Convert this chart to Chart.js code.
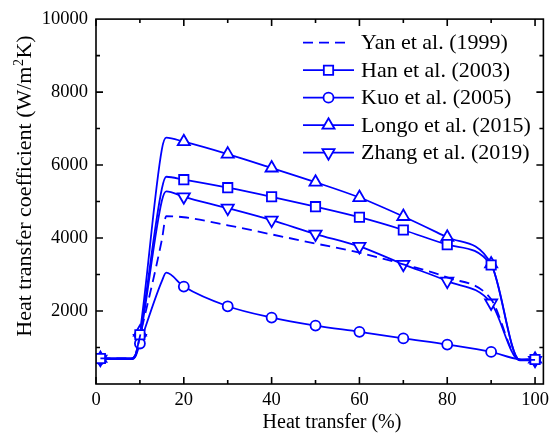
<!DOCTYPE html>
<html>
<head>
<meta charset="utf-8">
<script src="https://cdn.jsdelivr.net/npm/chart.js@4.4.0/dist/chart.umd.min.js"></script>
<style>
  body { margin: 0; background: #fff; }
</style>
</head>
<body>
<canvas id="htcChart" width="554" height="437"></canvas>
<script>
// heat transfer (%) sample points shared by all curves
const xPts  = [1, 8, 9, 10, 15, 16, 20, 30, 40, 50, 60, 70, 80, 90, 96.5, 100];
const yan   = [700, 700, 790, 1300, 3950, 4600, 4570, 4350, 4100, 3850, 3600, 3280, 2920, 2320, 660, 660];
const han   = [700, 700, 800, 1350, 5350, 5680, 5600, 5380, 5130, 4860, 4570, 4220, 3820, 3260, 660, 670];
const kuo   = [680, 680, 760, 1110, 2820, 3050, 2670, 2130, 1820, 1600, 1430, 1250, 1080, 880, 680, 670];
const longo = [700, 700, 800, 1420, 6430, 6750, 6640, 6300, 5920, 5530, 5110, 4590, 4020, 3290, 660, 680];
const zhang = [680, 680, 780, 1250, 5020, 5280, 5130, 4820, 4490, 4110, 3770, 3280, 2820, 2220, 650, 650];

const seriesNames = ['Yan et al. (1999)', 'Han et al. (2003)', 'Kuo et al. (2005)', 'Longo et al. (2015)', 'Zhang et al. (2019)'];
const xTicks = [0, 20, 40, 60, 80, 100];
const yTicks = [2000, 4000, 6000, 8000, 10000];

const BLUE = '#0000ff';
const FONT = '"Liberation Serif", "Times New Roman", serif';

// marker only on the measured stations (1, 10, 20 ... 100)
const markerAt = (c, r) => {
    const x = c.raw && c.raw.x;
    return (x === 1 || x % 10 === 0) ? r : 0;
};

function makeSet(label, vals, style, radius, rotation, dash) {
    return {
        label: label,
        data: xPts.map((x, i) => ({ x: x, y: vals[i] })),
        borderColor: BLUE,
        backgroundColor: '#fff',
        borderWidth: 1.8,
        borderDash: dash || [],
        cubicInterpolationMode: 'monotone',
        pointStyle: style,
        pointRotation: rotation || 0,
        pointRadius: style ? (c) => markerAt(c, radius) : 0,
        pointBorderColor: BLUE,
        pointBackgroundColor: '#fff',
        pointBorderWidth: 1.8,
        pointHoverRadius: 0
    };
}

const datasets = [
    makeSet(seriesNames[0], yan, false, 0, 0, [10, 6]),
    makeSet(seriesNames[1], han, 'rect', 6.6),
    makeSet(seriesNames[2], kuo, 'circle', 5),
    makeSet(seriesNames[3], longo, 'triangle', 7),
    makeSet(seriesNames[4], zhang, 'triangle', 7, 180)
];

function marker(ctx, style, x, y, r, rot) {
    ctx.save();
    ctx.translate(x, y);
    ctx.rotate((rot || 0) * Math.PI / 180);
    ctx.beginPath();
    if (style === 'rect') {
        const s = r * Math.SQRT1_2;
        ctx.rect(-s, -s, 2 * s, 2 * s);
    } else if (style === 'circle') {
        ctx.arc(0, 0, r, 0, Math.PI * 2);
    } else if (style === 'triangle') {
        for (let k = 0; k < 3; k++) {
            const a = k * 2 * Math.PI / 3;
            const px = Math.sin(a) * r, py = -Math.cos(a) * r;
            k ? ctx.lineTo(px, py) : ctx.moveTo(px, py);
        }
        ctx.closePath();
    }
    ctx.fillStyle = '#fff';
    ctx.fill();
    ctx.lineWidth = 1.8;
    ctx.strokeStyle = BLUE;
    ctx.stroke();
    ctx.restore();
}

const frameAndLegend = {
    id: 'frameAndLegend',
    afterDraw(chart) {
        const { ctx, chartArea: a, scales } = chart;
        const xs = scales.x, ys = scales.y;
        ctx.save();
        ctx.strokeStyle = '#000';
        ctx.lineWidth = 1.6;
        ctx.strokeRect(a.left, a.top, a.right - a.left, a.bottom - a.top);
        ctx.beginPath();
        for (let v = 0; v <= 100; v += 10) {
            const px = xs.getPixelForValue(v);
            const len = v % 20 === 0 ? 7 : 4;
            ctx.moveTo(px, a.bottom); ctx.lineTo(px, a.bottom - len);
            ctx.moveTo(px, a.top); ctx.lineTo(px, a.top + len);
        }
        for (let v = 1000; v < 10000; v += 1000) {
            const py = ys.getPixelForValue(v);
            const len = v % 2000 === 0 ? 7 : 4;
            ctx.moveTo(a.left, py); ctx.lineTo(a.left + len, py);
            ctx.moveTo(a.right, py); ctx.lineTo(a.right - len, py);
        }
        ctx.stroke();

        // axis titles
        ctx.fillStyle = '#000';
        ctx.textBaseline = 'alphabetic';
        ctx.textAlign = 'left';
        ctx.font = '20px ' + FONT;
        const xt = 'Heat transfer (%)';
        ctx.fillText(xt, 332 - ctx.measureText(xt).width / 2, 428);

        const p1 = 'Heat transfer coefficient (W/m', p2 = '2', p3 = 'K)';
        ctx.font = '22px ' + FONT;
        const w1 = ctx.measureText(p1).width, w3 = ctx.measureText(p3).width;
        ctx.font = '14px ' + FONT;
        const w2 = ctx.measureText(p2).width + 1;
        const total = w1 + w2 + w3;
        ctx.save();
        ctx.translate(31, 186);
        ctx.rotate(-Math.PI / 2);
        let sx = -total / 2;
        ctx.font = '22px ' + FONT;
        ctx.fillText(p1, sx, 0);
        ctx.font = '14px ' + FONT;
        ctx.fillText(p2, sx + w1 + 0.5, -8);
        ctx.font = '22px ' + FONT;
        ctx.fillText(p3, sx + w1 + w2, 0);
        ctx.restore();

        // legend
        const styles = [null, 'rect', 'circle', 'triangle', 'triangle'];
        const radii = [0, 6.6, 5, 7, 7];
        const rots = [0, 0, 0, 0, 180];
        ctx.font = '22px ' + FONT;
        ctx.textBaseline = 'middle';
        seriesNames.forEach((name, i) => {
            const y = 42.7 + i * 27.5;
            ctx.beginPath();
            ctx.strokeStyle = BLUE;
            ctx.lineWidth = 1.8;
            ctx.setLineDash(i === 0 ? [10, 6] : []);
            ctx.moveTo(303, y);
            ctx.lineTo(i === 0 ? 347 : 354, y);
            ctx.stroke();
            ctx.setLineDash([]);
            if (styles[i]) marker(ctx, styles[i], 328.5, y, radii[i], rots[i]);
            ctx.fillStyle = '#000';
            ctx.fillText(name, 361, y + 1);
        });
        ctx.restore();
    }
};

new Chart(document.getElementById('htcChart'), {
    type: 'line',
    data: { datasets: datasets },
    options: {
        responsive: false,
        animation: false,
        events: [],
        layout: { autoPadding: false, padding: { top: 18, right: 4, left: 0, bottom: 0 } },
        plugins: { legend: { display: false }, tooltip: { enabled: false } },
        scales: {
            x: {
                type: 'linear',
                min: 0,
                max: 101.9,
                afterBuildTicks: (s) => { s.ticks = xTicks.map(v => ({ value: v })); },
                afterFit: (s) => { s.height = 53; },
                grid: { display: false, drawTicks: false },
                border: { display: false },
                ticks: { color: '#000', padding: 5, maxRotation: 0, font: { family: FONT, size: 18.5 }, callback: (v) => String(v) },
                title: { display: false }
            },
            y: {
                min: 0,
                max: 10000,
                afterBuildTicks: (s) => { s.ticks = yTicks.map(v => ({ value: v })); },
                afterFit: (s) => { s.width = 96; },
                grid: { display: false, drawTicks: false },
                border: { display: false },
                ticks: { color: '#000', padding: 8, font: { family: FONT, size: 18.5 }, callback: (v) => String(v) },
                title: { display: false }
            }
        }
    },
    plugins: [frameAndLegend]
});
</script>
</body>
</html>
